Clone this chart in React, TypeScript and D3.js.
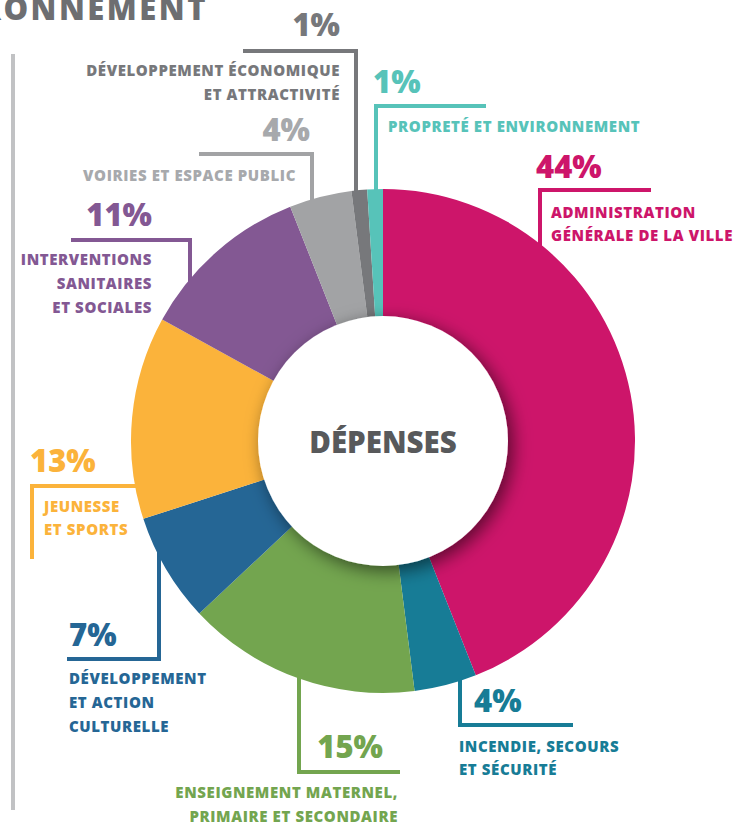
import React from "react";
import * as d3 from "d3";

const categories = [
  "ADMINISTRATION GÉNÉRALE DE LA VILLE",
  "INCENDIE, SECOURS ET SÉCURITÉ",
  "ENSEIGNEMENT MATERNEL, PRIMAIRE ET SECONDAIRE",
  "DÉVELOPPEMENT ET ACTION CULTURELLE",
  "JEUNESSE ET SPORTS",
  "INTERVENTIONS SANITAIRES ET SOCIALES",
  "VOIRIES ET ESPACE PUBLIC",
  "DÉVELOPPEMENT ÉCONOMIQUE ET ATTRACTIVITÉ",
  "PROPRETÉ ET ENVIRONNEMENT",
];
const values = [44, 4, 15, 7, 13, 11, 4, 1, 1];
const sliceColors = ["#CD156A", "#177C96", "#73A54F", "#256695", "#FBB33B", "#835893", "#A2A3A5", "#77787B", "#57C3B9"];
const textColors = ["#CD156A", "#177C96", "#73A54F", "#256695", "#FBB33B", "#835893", "#A7A9AC", "#77787B", "#57C3B9"];
const labelLines = [
  ["ADMINISTRATION", "GÉNÉRALE DE LA VILLE"],
  ["INCENDIE, SECOURS", "ET SÉCURITÉ"],
  ["ENSEIGNEMENT MATERNEL,", "PRIMAIRE ET SECONDAIRE"],
  ["DÉVELOPPEMENT", "ET ACTION", "CULTURELLE"],
  ["JEUNESSE", "ET SPORTS"],
  ["INTERVENTIONS", "SANITAIRES", "ET SOCIALES"],
  ["VOIRIES ET ESPACE PUBLIC"],
  ["DÉVELOPPEMENT ÉCONOMIQUE", "ET ATTRACTIVITÉ"],
  ["PROPRETÉ ET ENVIRONNEMENT"],
];
const centerTitle = "DÉPENSES";
const pageTitle = "ENVIRONNEMENT";

type P = [number | "pie", number | "pie"];
type Layout = {
  pts: P[];
  pct: { x: number; y: number; a: "start" | "end" };
  lab: { x: number; ys: number[]; a: "start" | "end" };
};
const layouts: Layout[] = [
  { pts: [[649, 190], [540, 190], [540, "pie"]], pct: { x: 536, y: 178, a: "start" }, lab: { x: 551, ys: [218, 241], a: "start" } },
  { pts: [[571, 725], [460, 725], [460, "pie"]], pct: { x: 474, y: 712, a: "start" }, lab: { x: 459, ys: [752, 775], a: "start" } },
  { pts: [[398, 772], [299, 772], [299, "pie"]], pct: { x: 383, y: 758, a: "end" }, lab: { x: 398, ys: [798, 822], a: "end" } },
  { pts: [[69, 659], [159, 659], [159, "pie"]], pct: { x: 69, y: 646, a: "start" }, lab: { x: 69, ys: [684, 708, 732], a: "start" } },
  { pts: [[32, 557], [32, 486], ["pie", 486]], pct: { x: 30, y: 472, a: "start" }, lab: { x: 44, ys: [512, 535], a: "start" } },
  { pts: [[73, 240], [190, 240], [190, "pie"]], pct: { x: 152, y: 226, a: "end" }, lab: { x: 152, ys: [265, 289, 313], a: "end" } },
  { pts: [[201, 154], [312, 154], [312, "pie"]], pct: { x: 310, y: 141, a: "end" }, lab: { x: 296, ys: [181], a: "end" } },
  { pts: [[245, 51], [356, 51], [356, "pie"]], pct: { x: 340, y: 36, a: "end" }, lab: { x: 340, ys: [76, 100], a: "end" } },
  { pts: [[484, 106], [376, 106], [376, "pie"]], pct: { x: 373, y: 93, a: "start" }, lab: { x: 388, ys: [132], a: "start" } },
];

const W = 750, H = 825;
const cx = 383, cy = 441, R = 252, r = 125;
const FONT = "'Open Sans', 'Noto Sans', sans-serif";

export default function App() {
  const pie = d3.pie<number>().value((d) => d).sort(null);
  const arcs = pie(values);
  const arc = d3.arc<d3.PieArcDatum<number>>().innerRadius(r - 2).outerRadius(R);

  const resolve = (pts: P[]) => {
    const out: [number, number][] = [];
    pts.forEach((p, i) => {
      if (p[1] === "pie") {
        const x = p[0] as number;
        const prev = out[i - 1];
        const h = Math.sqrt(R * R - (x - cx) * (x - cx)) - 10;
        out.push([x, prev[1] < cy ? cy - h : cy + h]);
      } else if (p[0] === "pie") {
        const y = p[1] as number;
        const prev = out[i - 1];
        const h = Math.sqrt(R * R - (y - cy) * (y - cy)) - 10;
        out.push([prev[0] < cx ? cx - h : cx + h, y]);
      } else out.push([p[0] as number, p[1] as number]);
    });
    return out;
  };

  return (
    <svg width={W} height={H} style={{ position: "absolute", left: 0, top: 0, background: "#fff" }} fontFamily={FONT}>
      <defs>
        <filter id="shadow" x="-30%" y="-30%" width="160%" height="160%">
          <feDropShadow dx="5" dy="5" stdDeviation="9" floodColor="#000" floodOpacity="0.55" />
        </filter>
      </defs>
      <text x={208} y={20} textAnchor="end" fontSize={31} fontWeight={800} letterSpacing={2.5} fill="#6D6E71">
        {pageTitle}
      </text>
      <line x1={13} x2={13} y1={54} y2={810} stroke="#C1C2C4" strokeWidth={4} />
      {layouts.map((l, i) => (
        <polyline key={"l" + i} points={resolve(l.pts).map((p) => p.join(",")).join(" ")} fill="none"
          stroke={sliceColors[i]} strokeWidth={4} strokeLinejoin="miter" strokeLinecap="square" />
      ))}
      <g transform={`translate(${cx},${cy})`}>
        {arcs.map((a, i) => (
          <path key={categories[i]} d={arc(a) || ""} fill={sliceColors[i]} />
        ))}
        <circle r={r} fill="#fff" filter="url(#shadow)" />
        <text y={12} textAnchor="middle" fontSize={29.5} fontWeight={800} fill="#58595B">{centerTitle}</text>
      </g>
      {layouts.map((l, i) => (
        <g key={"t" + i} fill={textColors[i]}>
          <text x={l.pct.x} y={l.pct.y} textAnchor={l.pct.a} fontSize={31} fontWeight={800}>{values[i]}%</text>
          {labelLines[i].map((s, j) => (
            <text key={j} x={l.lab.x} y={l.lab.ys[j]} textAnchor={l.lab.a} fontSize={15} fontWeight={800} letterSpacing={0.6}>{s}</text>
          ))}
        </g>
      ))}
    </svg>
  );
}
